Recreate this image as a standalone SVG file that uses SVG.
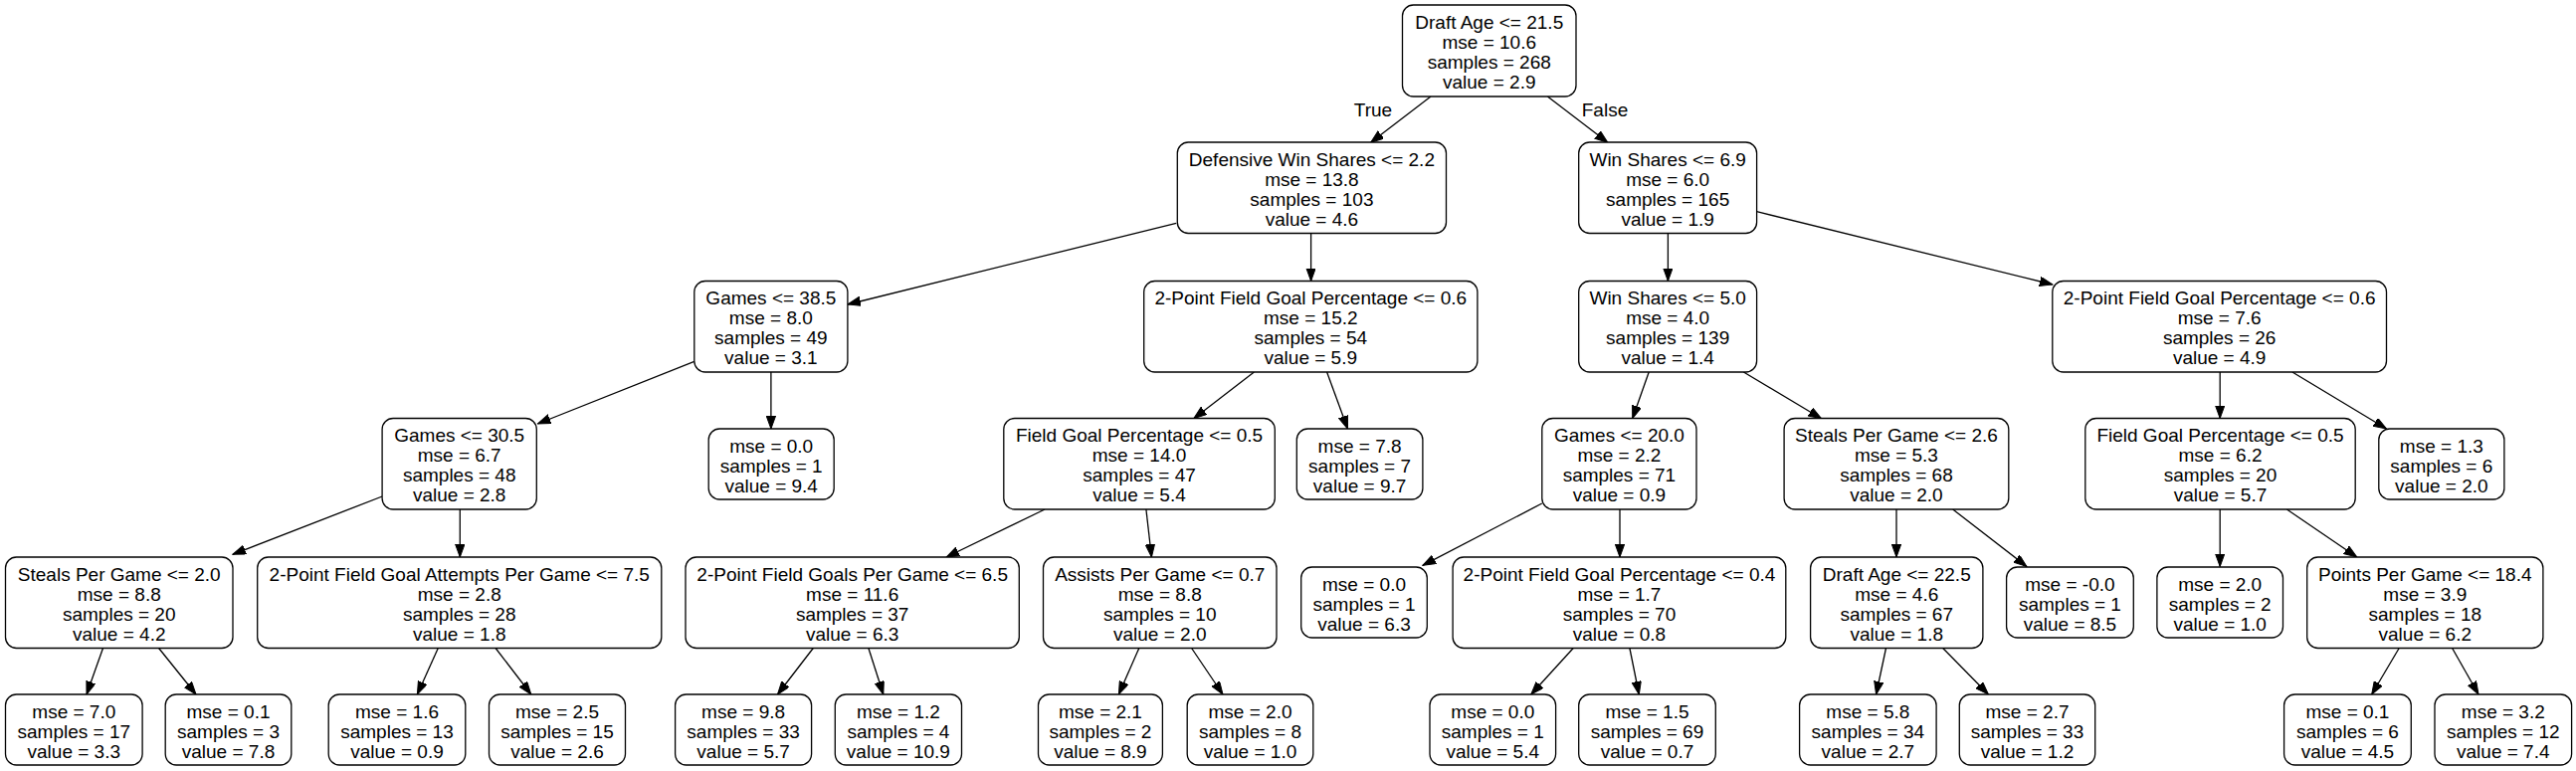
<svg xmlns="http://www.w3.org/2000/svg" width="2589" height="775" viewBox="0 0 2589 775">
<defs>
<style>
.n rect{fill:#fff;stroke:#000;stroke-width:1.3}
text{font-family:"Liberation Sans",Arial,sans-serif;font-size:19px;text-anchor:middle;fill:#000}
.n text{transform:translateY(2px)}
.e line{stroke:#000;stroke-width:1.3;marker-end:url(#ah)}
</style>
<marker id="ah" markerUnits="userSpaceOnUse" markerWidth="14" markerHeight="10" refX="13" refY="4.7" orient="auto">
<path d="M0,0 L13,4.7 L0,9.4 Z" fill="#000" stroke="#000" stroke-width="1"/>
</marker>
</defs>
<rect width="2589" height="775" fill="#fff"/>
<g id="connectors" class="e">
<line x1="1438" y1="97" x2="1377.6" y2="143.3"/>
<line x1="1555.4" y1="97" x2="1615.9" y2="143.3"/>
<line x1="1182.2" y1="224.3" x2="852" y2="306"/>
<line x1="1317.6" y1="234.5" x2="1317.6" y2="282.5"/>
<line x1="1676.4" y1="234.5" x2="1676.4" y2="282.5"/>
<line x1="1765.6" y1="212.7" x2="2062.8" y2="286"/>
<line x1="697.8" y1="363.3" x2="540.4" y2="426"/>
<line x1="774.9" y1="374" x2="774.9" y2="431"/>
<line x1="1260.4" y1="374" x2="1199.8" y2="420.7"/>
<line x1="1333.6" y1="374" x2="1354.5" y2="431"/>
<line x1="1657.2" y1="374" x2="1640.7" y2="420.7"/>
<line x1="1752.4" y1="374" x2="1830.6" y2="420.7"/>
<line x1="2231.2" y1="374" x2="2231.2" y2="420.5"/>
<line x1="2303.9" y1="374" x2="2398.5" y2="431"/>
<line x1="384.1" y1="499" x2="233.9" y2="557.3"/>
<line x1="462.3" y1="512" x2="462.3" y2="560"/>
<line x1="1050.1" y1="512" x2="951.1" y2="560"/>
<line x1="1151.9" y1="512" x2="1157.4" y2="560"/>
<line x1="1549.8" y1="506" x2="1429.9" y2="568.3"/>
<line x1="1628" y1="512" x2="1628" y2="560"/>
<line x1="1906" y1="512" x2="1906" y2="560"/>
<line x1="1962.7" y1="512" x2="2037" y2="569.5"/>
<line x1="2231.2" y1="512" x2="2231.2" y2="569.5"/>
<line x1="2298.4" y1="512" x2="2368.8" y2="560"/>
<line x1="103.5" y1="651.5" x2="87" y2="698"/>
<line x1="159.6" y1="651.5" x2="197" y2="698"/>
<line x1="440.3" y1="651.5" x2="419.4" y2="698"/>
<line x1="498.1" y1="651.5" x2="533.8" y2="698"/>
<line x1="817.3" y1="651.5" x2="781.5" y2="698"/>
<line x1="872.9" y1="651.5" x2="887.8" y2="698"/>
<line x1="1144.8" y1="651.5" x2="1124.4" y2="698"/>
<line x1="1197.6" y1="651.5" x2="1229" y2="698"/>
<line x1="1581.2" y1="651.5" x2="1538.8" y2="698"/>
<line x1="1637.9" y1="651.5" x2="1647.3" y2="698"/>
<line x1="1895.5" y1="651.5" x2="1885.6" y2="698"/>
<line x1="1952.7" y1="651.5" x2="1998.4" y2="698"/>
<line x1="2411.2" y1="651.5" x2="2383.7" y2="698"/>
<line x1="2464.6" y1="651.5" x2="2491" y2="698"/>
<text x="1380" y="117">True</text>
<text x="1613" y="117">False</text>
</g>
<g id="n0" class="n"><rect x="1409.5" y="5" width="174.5" height="92" rx="11"/><text x="1496.75" y="27"><tspan x="1496.75">Draft Age &lt;= 21.5</tspan><tspan x="1496.75" dy="20">mse = 10.6</tspan><tspan x="1496.75" dy="20">samples = 268</tspan><tspan x="1496.75" dy="20">value = 2.9</tspan></text></g>
<g id="n1" class="n"><rect x="1183.3" y="143" width="270.2" height="91.5" rx="11"/><text x="1318.4" y="164.75"><tspan x="1318.4">Defensive Win Shares &lt;= 2.2</tspan><tspan x="1318.4" dy="20">mse = 13.8</tspan><tspan x="1318.4" dy="20">samples = 103</tspan><tspan x="1318.4" dy="20">value = 4.6</tspan></text></g>
<g id="n2" class="n"><rect x="1586.7" y="143" width="178.9" height="91.5" rx="11"/><text x="1676.15" y="164.75"><tspan x="1676.15">Win Shares &lt;= 6.9</tspan><tspan x="1676.15" dy="20">mse = 6.0</tspan><tspan x="1676.15" dy="20">samples = 165</tspan><tspan x="1676.15" dy="20">value = 1.9</tspan></text></g>
<g id="n3" class="n"><rect x="697.8" y="282.5" width="154.1" height="91.5" rx="11"/><text x="774.85" y="304.25"><tspan x="774.85">Games &lt;= 38.5</tspan><tspan x="774.85" dy="20">mse = 8.0</tspan><tspan x="774.85" dy="20">samples = 49</tspan><tspan x="774.85" dy="20">value = 3.1</tspan></text></g>
<g id="n4" class="n"><rect x="1149.7" y="282.5" width="335.2" height="91.5" rx="11"/><text x="1317.3" y="304.25"><tspan x="1317.3">2-Point Field Goal Percentage &lt;= 0.6</tspan><tspan x="1317.3" dy="20">mse = 15.2</tspan><tspan x="1317.3" dy="20">samples = 54</tspan><tspan x="1317.3" dy="20">value = 5.9</tspan></text></g>
<g id="n5" class="n"><rect x="1586.7" y="282.5" width="178.9" height="91.5" rx="11"/><text x="1676.15" y="304.25"><tspan x="1676.15">Win Shares &lt;= 5.0</tspan><tspan x="1676.15" dy="20">mse = 4.0</tspan><tspan x="1676.15" dy="20">samples = 139</tspan><tspan x="1676.15" dy="20">value = 1.4</tspan></text></g>
<g id="n6" class="n"><rect x="2062.8" y="282.5" width="335.7" height="91.5" rx="11"/><text x="2230.65" y="304.25"><tspan x="2230.65">2-Point Field Goal Percentage &lt;= 0.6</tspan><tspan x="2230.65" dy="20">mse = 7.6</tspan><tspan x="2230.65" dy="20">samples = 26</tspan><tspan x="2230.65" dy="20">value = 4.9</tspan></text></g>
<g id="n7" class="n"><rect x="384.1" y="420.5" width="155.2" height="91.5" rx="11"/><text x="461.7" y="442.25"><tspan x="461.7">Games &lt;= 30.5</tspan><tspan x="461.7" dy="20">mse = 6.7</tspan><tspan x="461.7" dy="20">samples = 48</tspan><tspan x="461.7" dy="20">value = 2.8</tspan></text></g>
<g id="n8" class="n"><rect x="712.2" y="431" width="126" height="71" rx="11"/><text x="775.2" y="452.5"><tspan x="775.2">mse = 0.0</tspan><tspan x="775.2" dy="20">samples = 1</tspan><tspan x="775.2" dy="20">value = 9.4</tspan></text></g>
<g id="n9" class="n"><rect x="1008.8" y="420.5" width="272.5" height="91.5" rx="11"/><text x="1145.05" y="442.25"><tspan x="1145.05">Field Goal Percentage &lt;= 0.5</tspan><tspan x="1145.05" dy="20">mse = 14.0</tspan><tspan x="1145.05" dy="20">samples = 47</tspan><tspan x="1145.05" dy="20">value = 5.4</tspan></text></g>
<g id="n10" class="n"><rect x="1303.3" y="431" width="126.6" height="71" rx="11"/><text x="1366.6" y="452.5"><tspan x="1366.6">mse = 7.8</tspan><tspan x="1366.6" dy="20">samples = 7</tspan><tspan x="1366.6" dy="20">value = 9.7</tspan></text></g>
<g id="n11" class="n"><rect x="1549.8" y="420.5" width="155.2" height="91.5" rx="11"/><text x="1627.4" y="442.25"><tspan x="1627.4">Games &lt;= 20.0</tspan><tspan x="1627.4" dy="20">mse = 2.2</tspan><tspan x="1627.4" dy="20">samples = 71</tspan><tspan x="1627.4" dy="20">value = 0.9</tspan></text></g>
<g id="n12" class="n"><rect x="1793.1" y="420.5" width="225.7" height="91.5" rx="11"/><text x="1905.95" y="442.25"><tspan x="1905.95">Steals Per Game &lt;= 2.6</tspan><tspan x="1905.95" dy="20">mse = 5.3</tspan><tspan x="1905.95" dy="20">samples = 68</tspan><tspan x="1905.95" dy="20">value = 2.0</tspan></text></g>
<g id="n13" class="n"><rect x="2095.8" y="420.5" width="271.4" height="91.5" rx="11"/><text x="2231.5" y="442.25"><tspan x="2231.5">Field Goal Percentage &lt;= 0.5</tspan><tspan x="2231.5" dy="20">mse = 6.2</tspan><tspan x="2231.5" dy="20">samples = 20</tspan><tspan x="2231.5" dy="20">value = 5.7</tspan></text></g>
<g id="n14" class="n"><rect x="2390.8" y="431" width="126.1" height="71" rx="11"/><text x="2453.85" y="452.5"><tspan x="2453.85">mse = 1.3</tspan><tspan x="2453.85" dy="20">samples = 6</tspan><tspan x="2453.85" dy="20">value = 2.0</tspan></text></g>
<g id="n15" class="n"><rect x="5.5" y="560" width="228.5" height="91.5" rx="11"/><text x="119.75" y="581.75"><tspan x="119.75">Steals Per Game &lt;= 2.0</tspan><tspan x="119.75" dy="20">mse = 8.8</tspan><tspan x="119.75" dy="20">samples = 20</tspan><tspan x="119.75" dy="20">value = 4.2</tspan></text></g>
<g id="n16" class="n"><rect x="258.7" y="560" width="406.1" height="91.5" rx="11"/><text x="461.75" y="581.75"><tspan x="461.75">2-Point Field Goal Attempts Per Game &lt;= 7.5</tspan><tspan x="461.75" dy="20">mse = 2.8</tspan><tspan x="461.75" dy="20">samples = 28</tspan><tspan x="461.75" dy="20">value = 1.8</tspan></text></g>
<g id="n17" class="n"><rect x="689" y="560" width="335.3" height="91.5" rx="11"/><text x="856.65" y="581.75"><tspan x="856.65">2-Point Field Goals Per Game &lt;= 6.5</tspan><tspan x="856.65" dy="20">mse = 11.6</tspan><tspan x="856.65" dy="20">samples = 37</tspan><tspan x="856.65" dy="20">value = 6.3</tspan></text></g>
<g id="n18" class="n"><rect x="1048.5" y="560" width="234.5" height="91.5" rx="11"/><text x="1165.75" y="581.75"><tspan x="1165.75">Assists Per Game &lt;= 0.7</tspan><tspan x="1165.75" dy="20">mse = 8.8</tspan><tspan x="1165.75" dy="20">samples = 10</tspan><tspan x="1165.75" dy="20">value = 2.0</tspan></text></g>
<g id="n19" class="n"><rect x="1307.7" y="570" width="126.6" height="71" rx="11"/><text x="1371" y="591.5"><tspan x="1371">mse = 0.0</tspan><tspan x="1371" dy="20">samples = 1</tspan><tspan x="1371" dy="20">value = 6.3</tspan></text></g>
<g id="n20" class="n"><rect x="1460.1" y="560" width="334.7" height="91.5" rx="11"/><text x="1627.45" y="581.75"><tspan x="1627.45">2-Point Field Goal Percentage &lt;= 0.4</tspan><tspan x="1627.45" dy="20">mse = 1.7</tspan><tspan x="1627.45" dy="20">samples = 70</tspan><tspan x="1627.45" dy="20">value = 0.8</tspan></text></g>
<g id="n21" class="n"><rect x="1819.6" y="560" width="173.3" height="91.5" rx="11"/><text x="1906.25" y="581.75"><tspan x="1906.25">Draft Age &lt;= 22.5</tspan><tspan x="1906.25" dy="20">mse = 4.6</tspan><tspan x="1906.25" dy="20">samples = 67</tspan><tspan x="1906.25" dy="20">value = 1.8</tspan></text></g>
<g id="n22" class="n"><rect x="2016.6" y="570" width="127.7" height="71" rx="11"/><text x="2080.45" y="591.5"><tspan x="2080.45">mse = -0.0</tspan><tspan x="2080.45" dy="20">samples = 1</tspan><tspan x="2080.45" dy="20">value = 8.5</tspan></text></g>
<g id="n23" class="n"><rect x="2167.9" y="570" width="126.6" height="71" rx="11"/><text x="2231.2" y="591.5"><tspan x="2231.2">mse = 2.0</tspan><tspan x="2231.2" dy="20">samples = 2</tspan><tspan x="2231.2" dy="20">value = 1.0</tspan></text></g>
<g id="n24" class="n"><rect x="2318.7" y="560" width="237.2" height="91.5" rx="11"/><text x="2437.3" y="581.75"><tspan x="2437.3">Points Per Game &lt;= 18.4</tspan><tspan x="2437.3" dy="20">mse = 3.9</tspan><tspan x="2437.3" dy="20">samples = 18</tspan><tspan x="2437.3" dy="20">value = 6.2</tspan></text></g>
<g id="n25" class="n"><rect x="5.5" y="698" width="137.6" height="71" rx="11"/><text x="74.3" y="719.5"><tspan x="74.3">mse = 7.0</tspan><tspan x="74.3" dy="20">samples = 17</tspan><tspan x="74.3" dy="20">value = 3.3</tspan></text></g>
<g id="n26" class="n"><rect x="166.2" y="698" width="126.6" height="71" rx="11"/><text x="229.5" y="719.5"><tspan x="229.5">mse = 0.1</tspan><tspan x="229.5" dy="20">samples = 3</tspan><tspan x="229.5" dy="20">value = 7.8</tspan></text></g>
<g id="n27" class="n"><rect x="330.2" y="698" width="137.6" height="71" rx="11"/><text x="399" y="719.5"><tspan x="399">mse = 1.6</tspan><tspan x="399" dy="20">samples = 13</tspan><tspan x="399" dy="20">value = 0.9</tspan></text></g>
<g id="n28" class="n"><rect x="491.5" y="698" width="137" height="71" rx="11"/><text x="560" y="719.5"><tspan x="560">mse = 2.5</tspan><tspan x="560" dy="20">samples = 15</tspan><tspan x="560" dy="20">value = 2.6</tspan></text></g>
<g id="n29" class="n"><rect x="678.6" y="698" width="137" height="71" rx="11"/><text x="747.1" y="719.5"><tspan x="747.1">mse = 9.8</tspan><tspan x="747.1" dy="20">samples = 33</tspan><tspan x="747.1" dy="20">value = 5.7</tspan></text></g>
<g id="n30" class="n"><rect x="839.3" y="698" width="127.2" height="71" rx="11"/><text x="902.9" y="719.5"><tspan x="902.9">mse = 1.2</tspan><tspan x="902.9" dy="20">samples = 4</tspan><tspan x="902.9" dy="20">value = 10.9</tspan></text></g>
<g id="n31" class="n"><rect x="1043.5" y="698" width="124.9" height="71" rx="11"/><text x="1105.95" y="719.5"><tspan x="1105.95">mse = 2.1</tspan><tspan x="1105.95" dy="20">samples = 2</tspan><tspan x="1105.95" dy="20">value = 8.9</tspan></text></g>
<g id="n32" class="n"><rect x="1193.2" y="698" width="126.6" height="71" rx="11"/><text x="1256.5" y="719.5"><tspan x="1256.5">mse = 2.0</tspan><tspan x="1256.5" dy="20">samples = 8</tspan><tspan x="1256.5" dy="20">value = 1.0</tspan></text></g>
<g id="n33" class="n"><rect x="1437" y="698" width="126.6" height="71" rx="11"/><text x="1500.3" y="719.5"><tspan x="1500.3">mse = 0.0</tspan><tspan x="1500.3" dy="20">samples = 1</tspan><tspan x="1500.3" dy="20">value = 5.4</tspan></text></g>
<g id="n34" class="n"><rect x="1586.7" y="698" width="137.6" height="71" rx="11"/><text x="1655.5" y="719.5"><tspan x="1655.5">mse = 1.5</tspan><tspan x="1655.5" dy="20">samples = 69</tspan><tspan x="1655.5" dy="20">value = 0.7</tspan></text></g>
<g id="n35" class="n"><rect x="1808.6" y="698" width="137.5" height="71" rx="11"/><text x="1877.35" y="719.5"><tspan x="1877.35">mse = 5.8</tspan><tspan x="1877.35" dy="20">samples = 34</tspan><tspan x="1877.35" dy="20">value = 2.7</tspan></text></g>
<g id="n36" class="n"><rect x="1969.3" y="698" width="136.4" height="71" rx="11"/><text x="2037.5" y="719.5"><tspan x="2037.5">mse = 2.7</tspan><tspan x="2037.5" dy="20">samples = 33</tspan><tspan x="2037.5" dy="20">value = 1.2</tspan></text></g>
<g id="n37" class="n"><rect x="2295.6" y="698" width="127.7" height="71" rx="11"/><text x="2359.45" y="719.5"><tspan x="2359.45">mse = 0.1</tspan><tspan x="2359.45" dy="20">samples = 6</tspan><tspan x="2359.45" dy="20">value = 4.5</tspan></text></g>
<g id="n38" class="n"><rect x="2447" y="698" width="137.6" height="71" rx="11"/><text x="2515.8" y="719.5"><tspan x="2515.8">mse = 3.2</tspan><tspan x="2515.8" dy="20">samples = 12</tspan><tspan x="2515.8" dy="20">value = 7.4</tspan></text></g>
</svg>
